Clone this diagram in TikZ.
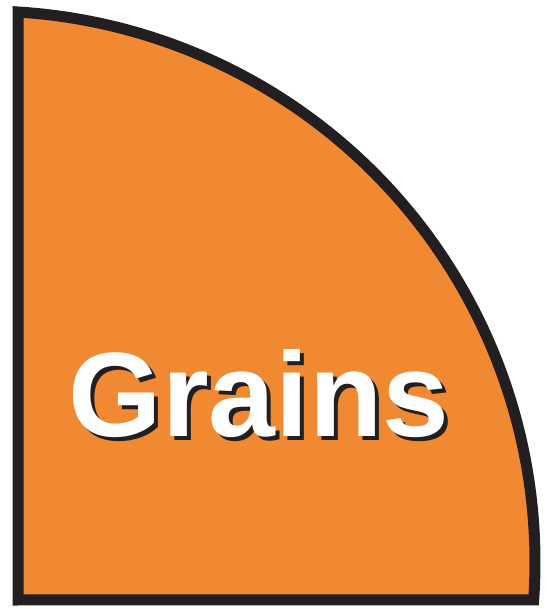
\documentclass[tikz,border=0pt]{standalone}
\usepackage{fontspec}
\setmainfont{Liberation Sans}
\usepackage{tikz}
\definecolor{mygrain}{RGB}{241,136,50}
\definecolor{mydark}{RGB}{35,31,32}
\tikzset{
  grainshape/.style={draw=mydark, fill=mygrain, line width=11pt, line join=miter},
  grainstext/.style={anchor=base, inner sep=0pt,
    font=\fontsize{120}{120}\selectfont\bfseries}
}

\begin{document}
\begin{tikzpicture}[x=1pt, y=1pt]
  \useasboundingbox (0,0) rectangle (549,609);

  % Quarter-disc outline
  \draw[grainshape] (18,9) -- (18,597)
    arc[start angle=86.46, end angle=-3.95, radius=551] -- cycle;

  % Label with drop shadow
  \node[grainstext, text=mydark] (labelshadow) at (263,168) {Grains};
  \node[grainstext, text=white] (label) at (259,172) {Grains};
\end{tikzpicture}
\end{document}
